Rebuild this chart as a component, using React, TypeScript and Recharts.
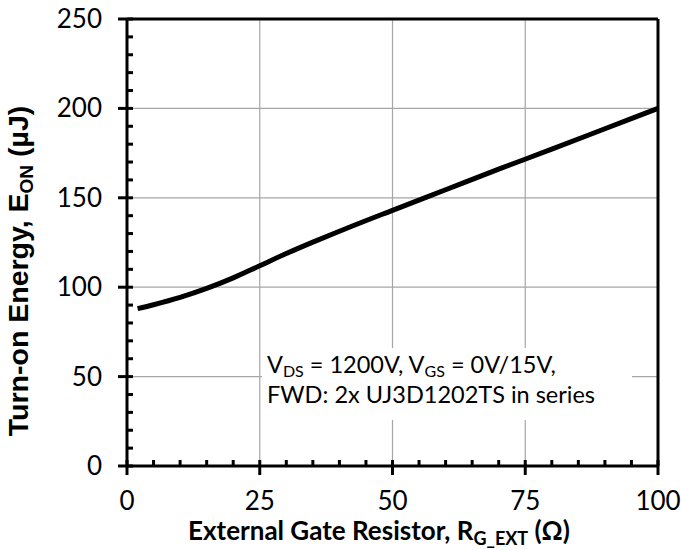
import React from 'react';
import {
  LineChart, Line, XAxis, YAxis, CartesianGrid, ReferenceLine
} from 'recharts';

// gate resistance (ohm) and turn-on energy (uJ)
const rgExt = [2, 5, 10, 15, 20, 25, 30, 35, 40, 50, 60, 70, 80, 90, 100];
const eOn = [88, 90.2, 94.3, 99.3, 105.2, 112, 118.8, 125.2, 131.3, 143, 154.5, 166, 177.2, 188.6, 200];

const xTicks = [0, 5, 10, 15, 20, 25, 30, 35, 40, 45, 50, 55, 60, 65, 70, 75, 80, 85, 90, 95, 100];
const yTicks = [0, 10, 20, 30, 40, 50, 60, 70, 80, 90, 100, 110, 120, 130, 140, 150, 160, 170, 180, 190, 200, 210, 220, 230, 240, 250];
const xMajor = [25, 50, 75];
const yMajor = [50, 100, 150, 200];

const data = rgExt.map((r, i) => ({ r, e: eOn[i] }));

const LATO = 'Lato, "Open Sans", sans-serif';

const XTick = (props: any) => {
  const { x, y, payload } = props;
  const major = payload.value % 25 === 0;
  return (
    <g>
      {major ? (
        <line x1={x} x2={x} y1={y - 6} y2={y + 9} stroke="#000" strokeWidth={3} />
      ) : (
        <line x1={x} x2={x} y1={y} y2={y - 6} stroke="#000" strokeWidth={3} />
      )}
      {major && (
        <text x={x} y={y + 44} textAnchor="middle" fontFamily={LATO} fontSize={26} fill="#000">
          {payload.value}
        </text>
      )}
    </g>
  );
};

const YTick = (props: any) => {
  const { x, y, payload } = props;
  const major = payload.value % 50 === 0;
  return (
    <g>
      {major ? (
        <line x1={x - 9} x2={x + 6} y1={y} y2={y} stroke="#000" strokeWidth={3} />
      ) : (
        <line x1={x} x2={x + 6} y1={y} y2={y} stroke="#000" strokeWidth={3} />
      )}
      {major && (
        <text x={x - 25} y={y + 9} textAnchor="end" fontFamily={LATO} fontSize={26} fill="#000">
          {payload.value}
        </text>
      )}
    </g>
  );
};

const XTitle = () => (
  <text x={379} y={540} textAnchor="middle" fontFamily={LATO} fontWeight="bold" fontSize={26} fill="#000">
    External Gate Resistor, R
    <tspan fontSize={18} dy={5}>G_EXT</tspan>
    <tspan dy={-5}> (Ω)</tspan>
  </text>
);

const YTitle = () => (
  <text
    x={28}
    y={271}
    transform="rotate(-90 28 271)"
    textAnchor="middle"
    fontFamily='"Liberation Sans", Arial, sans-serif'
    fontWeight="bold"
    fontSize={28.5}
    fill="#000"
  >
    Turn-on Energy, E
    <tspan fontSize={19} dy={5}>ON</tspan>
    <tspan dy={-5}> (µJ)</tspan>
  </text>
);

const Note = () => (
  <g fontFamily={LATO} fontSize={23.5} fill="#000">
    <rect x={262} y={348} width={370} height={72} fill="#fff" />
    <text x={267} y={373}>
      V<tspan fontSize={16} dy={4}>DS</tspan>
      <tspan dy={-4}> = 1200V, V</tspan>
      <tspan fontSize={16} dy={4}>GS</tspan>
      <tspan dy={-4}> = 0V/15V,</tspan>
    </text>
    <text x={267} y={403}>FWD: 2x UJ3D1202TS in series</text>
  </g>
);

export default function App() {
  return (
    <div style={{ position: 'absolute', left: 0, top: 0, width: 681, height: 550, background: '#fff' }}>
      <LineChart width={681} height={550} data={data} margin={{ top: 19, right: 23, bottom: 0, left: 0 }}>
        <CartesianGrid
          stroke="#a6a6a6"
          strokeWidth={1.2}
          verticalValues={xMajor}
          horizontalValues={yMajor}
        />
        <XAxis
          dataKey="r"
          type="number"
          domain={[0, 100]}
          ticks={xTicks}
          interval={0}
          height={84}
          tickSize={0}
          tickMargin={0}
          tickLine={false}
          axisLine={{ stroke: '#000', strokeWidth: 3 }}
          tick={<XTick />}
        />
        <YAxis
          type="number"
          domain={[0, 250]}
          ticks={yTicks}
          interval={0}
          width={127}
          tickSize={0}
          tickMargin={0}
          tickLine={false}
          axisLine={{ stroke: '#000', strokeWidth: 3 }}
          tick={<YTick />}
        />
        <ReferenceLine y={250} stroke="#000" strokeWidth={3} />
        <ReferenceLine x={100} stroke="#000" strokeWidth={3} />
        <Note />
        <Line
          dataKey="e"
          type="monotone"
          stroke="#000"
          strokeWidth={5}
          dot={false}
          isAnimationActive={false}
        />
        <XTitle />
        <YTitle />
      </LineChart>
    </div>
  );
}
